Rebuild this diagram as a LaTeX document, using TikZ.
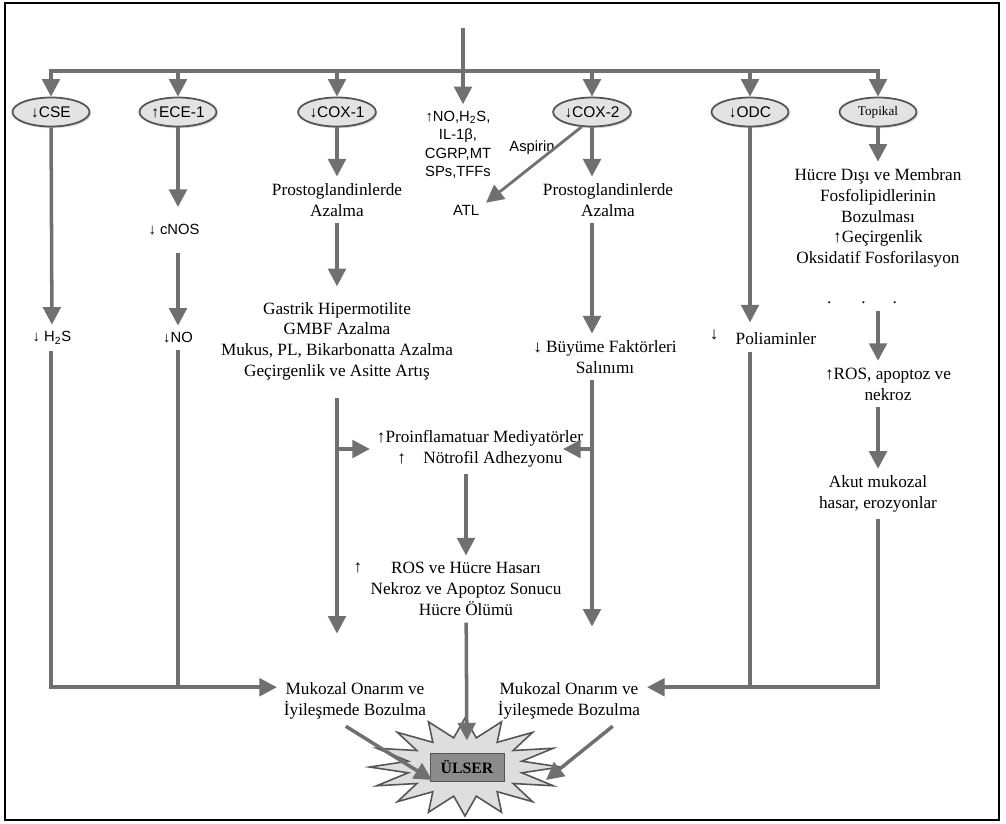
\documentclass[tikz,border=0pt]{standalone}
\usepackage{fontspec}
\setmainfont{Liberation Serif}
\setsansfont{Liberation Sans}
\usetikzlibrary{arrows.meta,shapes.geometric,shadows}
\definecolor{flowgray}{HTML}{707070}
\definecolor{ovalfill}{HTML}{E3E3E3}
\definecolor{ovalline}{HTML}{555555}
\definecolor{burstfill}{HTML}{DEDEDE}
\definecolor{boxfill}{HTML}{8C8C8C}
\tikzset{
  flow/.style={draw=flowgray, line width=2pt, -{Triangle[width=10pt,length=10pt]}},
  wire/.style={draw=flowgray, line width=2pt},
  oval/.style={ellipse, draw=ovalline, line width=1pt, fill=ovalfill, minimum width=15.4mm, minimum height=5.8mm, inner sep=0pt, font=\sffamily\fontsize{8.8}{10}\selectfont, drop shadow={shadow xshift=0.8pt, shadow yshift=-1pt, opacity=0.3}},
  txt/.style={align=center, inner sep=1pt, outer sep=3pt, font=\fontsize{9.8}{11.8}\selectfont},
  sans/.style={align=center, inner sep=1pt, outer sep=3pt, font=\sffamily\fontsize{8.4}{10.5}\selectfont},
}

\begin{document}
\begin{tikzpicture}[x=0.2mm, y=-0.2mm]
\useasboundingbox (0,0) rectangle (1006,823);
\fill[white] (0,0) rectangle (1006,823);
\draw[line width=1.4pt] (5,3) rectangle (999,820);

\node[oval] (cse) at (51,112) {↓CSE}; \node[oval] (ece) at (178,112) {↑ECE-1}; \node[oval] (cox1) at (337,112) {↓COX-1};
\node[oval] (cox2) at (592,112) {↓COX-2}; \node[oval] (odc) at (750,112) {↓ODC}; \node[oval, font=\fontsize{7.5}{9}\selectfont] (topikal) at (878,112) {Topikal};
\coordinate (src) at (463,28); \coordinate (bar) at (463,71);
\node[sans] (med) at (458,145) {↑NO,H\textsubscript{2}S,\\IL-1β,\\CGRP,MT\\SPs,TFFs};
\node[sans] (aspirin) at (532,148) {Aspirin}; \node[sans] (atl) at (466,210) {ATL};
\draw[flow] (bar) -| (cse); \draw[flow] (bar) -| (topikal);
\foreach \n in {ece,cox1,cox2,odc} \draw[flow] (\n |- bar) -- (\n);
\draw[flow] (src) -- (src |- med.north);
\draw[flow, line width=1.6pt] (cox2.235) -- (atl.20);

\node[txt] (pg1) at (337,200) {Prostoglandinlerde\\Azalma}; \node[txt] (pg2) at (608,200) {Prostoglandinlerde\\Azalma};
\node[sans, outer sep=9pt] (cnos) at (174,230) {↓ cNOS};
\node[sans] (h2s) at (52,338) {↓ H\textsubscript{2}S}; \node[sans] (no) at (178,338) {↓NO};
\node[txt] (gastrik) at (337,341) {Gastrik Hipermotilite\\GMBF Azalma\\Mukus, PL, Bikarbonatta Azalma\\Geçirgenlik ve Asitte Artış};
\node[txt] (growth) at (605,357) {↓ Büyüme Faktörleri\\Salınımı};
\node[txt] (poli) at (763,337) {\raisebox{3pt}{↓}\quad Poliaminler};
\node[txt] (topdesc) at (878,218) {Hücre Dışı ve Membran\\Fosfolipidlerinin\\Bozulması\\↑Geçirgenlik\\Oksidatif Fosforilasyon};
\node[txt] (dots) at (862,303) {.\hspace{6mm}.\hspace{5.4mm}.};
\node[txt] (rosT) at (888,384) {↑ROS, apoptoz ve\\nekroz}; \node[txt] (akut) at (878,494) {Akut mukozal\\hasar, erozyonlar};

\draw[flow] (cse) -- (h2s); \draw[flow] (ece) -- (ece |- cnos.north); \draw[flow] (ece |- cnos.south) -- (ece |- no.north);
\draw[flow] (cox1) -- (pg1); \draw[flow, shorten >=5pt] (pg1) -- (gastrik);
\draw[flow] (cox2) -- (cox2 |- pg2.north); \draw[flow] (cox2 |- pg2.south) -- (cox2 |- growth.north);
\draw[flow] (odc) -- (odc |- poli.north); \draw[flow] (topikal) -- (topdesc);
\draw[flow] (topikal |- dots.south) -- (topikal |- rosT.north); \draw[flow] (topikal |- rosT.south) -- (akut);

\node[txt] (infl) at (480,449) {↑Proinflamatuar Mediyatörler\\↑\quad Nötrofil Adhezyonu};
\node[txt] (rosC) at (466,589) {ROS ve Hücre Hasarı\\Nekroz ve Apoptoz Sonucu\\Hücre Ölümü}; \node[txt] (rosup) at (358,568) {↑};
\node[txt] (mukL) at (355,701) {Mukozal Onarım ve\\İyileşmede Bozulma}; \node[txt] (mukR) at (569,701) {Mukozal Onarım ve\\İyileşmede Bozulma};
\coordinate (inflR) at (563,449);
\draw[flow, shorten <=6pt, shorten >=24pt] (cox1 |- gastrik.south) -- (cox1 |- mukL.north); \draw[flow] (cox1 |- infl) -- (infl.west);
\draw[flow, shorten >=28pt] (cox2 |- growth.south) -- (cox2 |- mukR.north); \draw[flow] (cox2 |- infl) -- (inflR);
\draw[flow] (rosC |- infl.south) -- (rosC);
\draw[flow] (cse |- h2s.south) |- (mukL.170); \draw[wire] (ece |- no.south) -- (ece |- mukL.170);
\draw[flow] (topikal |- akut.south) |- (mukR.10); \draw[wire] (odc |- poli.south) -- (odc |- mukR.10);

\node[star, star points=16, star point ratio=1.65, minimum size=19.6mm, inner sep=0pt, draw=ovalline, fill=burstfill, line width=0.9pt, xscale=1.95, transform shape] (burst) at (465,767) {};
\node[draw=ovalline, fill=boxfill, minimum width=14.8mm, minimum height=5.6mm, font=\bfseries\fontsize{9}{10}\selectfont] (ulser) at (467,767) {ÜLSER};
\coordinate (hitL) at (432,780); \coordinate (hitR) at (546,780);
\draw[flow, shorten >=7pt] (rosC) -- (ulser); \draw[flow] (mukL.250) -- (hitL); \draw[flow] (mukR.330) -- (hitR);
\end{tikzpicture}
\end{document}
